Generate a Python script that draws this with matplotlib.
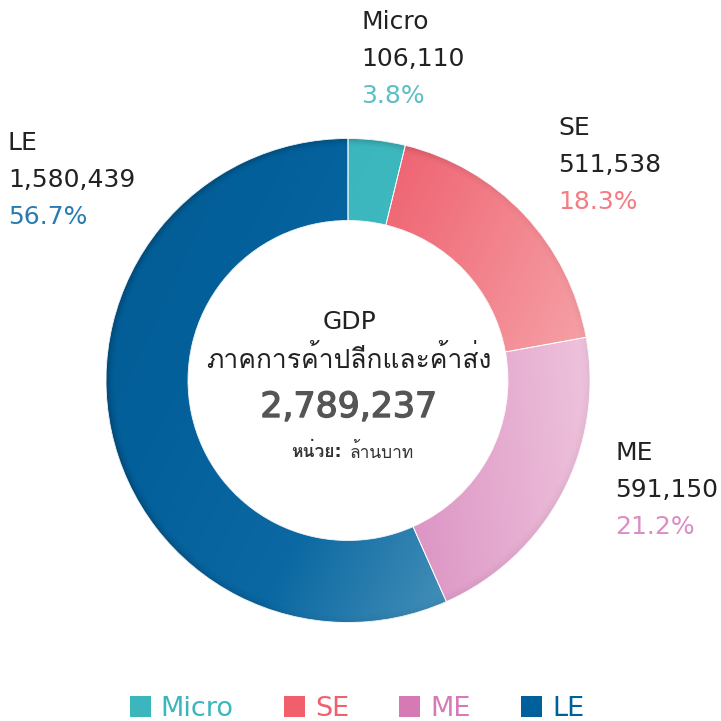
import matplotlib
matplotlib.use("Agg")
import matplotlib.pyplot as plt
import numpy as np
from matplotlib import font_manager
from matplotlib.ft2font import FT2Font
from matplotlib.colors import LinearSegmentedColormap
from matplotlib.patches import Patch, Wedge, Circle
import matplotlib.patheffects as pe

# data
segments = ["Micro", "SE", "ME", "LE"]
values = [106110, 511538, 591150, 1580439]
percents = ["3.8%", "18.3%", "21.2%", "56.7%"]
total_label = "2,789,237"
title_lines = ["GDP", "ภาคการค้าปลีกและค้าส่ง"]
unit_bold = "หน่วย:"
unit_text = "ล้านบาท"

colors = ["#3cb6bd", "#f25f6c", "#d67ab5", "#00609c"]
pct_colors = ["#5cbfc5", "#f47c83", "#da8ec3", "#2a7bb3"]
grad_stops = [
    ["#3cb6bd", "#3fb9c0"],
    ["#ee616f", "#f6a1a7"],
    ["#dc94c4", "#eec3dc"],
    ["#035c94", "#03609b", "#0b68a2", "#4590b8"],
]
grad_angle = [-25, -25, 5, -25]


def find_thai_font():
    for f in font_manager.fontManager.ttflist:
        try:
            cmap = FT2Font(f.fname).get_charmap()
        except Exception:
            continue
        if 0x0E20 in cmap and 0x0E49 in cmap:
            return f.name
    return None


thai = find_thai_font()
fams = ["DejaVu Sans"] + ([thai] if thai else [])
plt.rcParams["font.family"] = fams

W = 721
fig = plt.figure(figsize=(7.21, 7.21), dpi=100)
ax = fig.add_axes([0, 0, 1, 1])

cx, cy, R, ring = 348, W - 380.5, 242, 82
wedges, _ = ax.pie(values, colors=colors, startangle=90, counterclock=False,
                   radius=R, center=(cx, cy),
                   wedgeprops=dict(width=ring, linewidth=0))

# gradient fill for each wedge
for w, stops, ang in zip(wedges, grad_stops, grad_angle):
    bb = w.get_path().get_extents()
    xs = np.linspace(bb.x0, bb.x1, 300)
    ys = np.linspace(bb.y0, bb.y1, 300)
    X, Y = np.meshgrid(xs, ys)
    a = np.deg2rad(ang)
    P = X * np.cos(a) + Y * np.sin(a)
    P = (P - P.min()) / (P.max() - P.min())
    cm_ = LinearSegmentedColormap.from_list("g", stops)
    im = ax.imshow(P, extent=[bb.x0, bb.x1, bb.y0, bb.y1], origin="lower",
                   cmap=cm_, interpolation="bilinear", zorder=2)
    im.set_clip_path(w)

# soft shadow along the outer rim (stronger on the left / top)
xs = np.linspace(cx - R, cx + R, 600)
ys = np.linspace(cy - R, cy + R, 600)
X, Y = np.meshgrid(xs, ys)
rr = np.hypot(X - cx, Y - cy)
th = np.arctan2(Y - cy, X - cx)
k = np.clip((rr - (R - 9)) / 9, 0, 1) ** 1.6
k = k * (0.05 + 0.18 * np.clip(-np.cos(th) + 0.5 * np.sin(th) + 0.3, 0, 1))
shade = np.zeros(X.shape + (4,))
shade[..., 3] = k
im = ax.imshow(shade, extent=[cx - R, cx + R, cy - R, cy + R], origin="lower",
               interpolation="bilinear", zorder=2.5)
rim = Circle((cx, cy), R, transform=ax.transData, facecolor="none", edgecolor="none")
ax.add_patch(rim)
im.set_clip_path(rim)

# thin white separators
for w in wedges:
    ax.add_patch(Wedge(w.center, w.r, w.theta1, w.theta2, width=w.width,
                       facecolor="none", edgecolor="white", linewidth=0.6, zorder=3))

# outside labels
label_pos = [(361, 22), (558, 128), (615, 453), (8, 143)]
step = 37
for name, v, p, pc, (lx, ly) in zip(segments, values, percents, pct_colors, label_pos):
    ax.text(lx, W - ly, name, fontsize=18, color="#222222", va="center", ha="left")
    ax.text(lx, W - ly - step, f"{v:,}", fontsize=18, color="#222222", va="center", ha="left")
    ax.text(lx, W - ly - 2 * step, p, fontsize=18, color=pc, va="center", ha="left")

# centre text
ax.text(349, W - 322, title_lines[0], fontsize=18, color="#222222", ha="center", va="center")
ax.text(349, W - 360, title_lines[1], fontsize=19, color="#222222", ha="center", va="center")
ax.text(349, W - 407, total_label, fontsize=25, color="#555555", ha="center", va="center",
        path_effects=[pe.withStroke(linewidth=1.0, foreground="#555555")])
ax.text(342, W - 452, unit_bold, fontsize=12.5, color="#333333", ha="right", va="center",
        fontweight="bold")
ax.text(350, W - 452, unit_text, fontsize=12.5, color="#333333", ha="left", va="center")

# legend
handles = [Patch(facecolor=c, edgecolor="none") for c in colors]
leg = ax.legend(handles, segments, loc="center", bbox_to_anchor=(357 / W, 12 / W),
                bbox_transform=fig.transFigure, ncol=4, frameon=False, fontsize=19.5,
                handlelength=0.78, handleheight=0.78, handletextpad=0.37,
                columnspacing=1.85, borderpad=0)
for t, c in zip(leg.get_texts(), colors):
    t.set_color(c)

ax.set_xlim(0, W)
ax.set_ylim(0, W)
ax.set_aspect("equal")
ax.axis("off")

fig.savefig("out.png", dpi=100, facecolor="white")
